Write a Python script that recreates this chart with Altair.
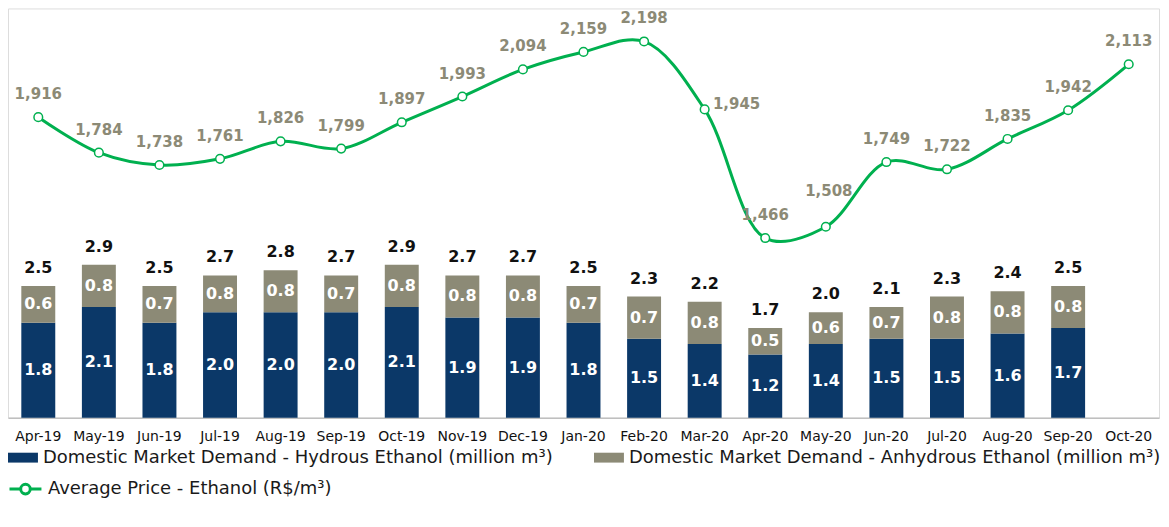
import altair as alt
import pandas as pd

months = ["Apr-19", "May-19", "Jun-19", "Jul-19", "Aug-19", "Sep-19", "Oct-19", "Nov-19",
          "Dec-19", "Jan-20", "Feb-20", "Mar-20", "Apr-20", "May-20", "Jun-20", "Jul-20",
          "Aug-20", "Sep-20", "Oct-20"]
hydrous = [1.8, 2.1, 1.8, 2.0, 2.0, 2.0, 2.1, 1.9, 1.9, 1.8, 1.5, 1.4, 1.2, 1.4, 1.5, 1.5, 1.6, 1.7]
anhydrous = [0.6, 0.8, 0.7, 0.8, 0.8, 0.7, 0.8, 0.8, 0.8, 0.7, 0.7, 0.8, 0.5, 0.6, 0.7, 0.8, 0.8, 0.8]
totals = [2.5, 2.9, 2.5, 2.7, 2.8, 2.7, 2.9, 2.7, 2.7, 2.5, 2.3, 2.2, 1.7, 2.0, 2.1, 2.3, 2.4, 2.5]
price = [1916, 1784, 1738, 1761, 1826, 1799, 1897, 1993, 2094, 2159, 2198, 1945, 1466, 1508,
         1749, 1722, 1835, 1942, 2113]

HYD = "Domestic Market Demand - Hydrous Ethanol (million m³)"
ANH = "Domestic Market Demand - Anhydrous Ethanol (million m³)"
PRC = "Average Price - Ethanol (R$/m³)"

NAVY = "#0B3868"
GREY = "#8C8A76"
GREEN = "#00B04F"
FONT = "DejaVu Sans"

bars = pd.DataFrame({"month": months[:18], "hydrous": hydrous, "anhydrous": anhydrous, "total": totals})
prices = pd.DataFrame({"month": months, "price": price})

W, H = 1153, 410
BAR_DOM = [0, 7.765]
LINE_DOM = [797, 2321]

x = alt.X("month:N", sort=months, scale=alt.Scale(domain=months, paddingInner=0.44, paddingOuter=0.22),
          axis=alt.Axis(title=None, labelAngle=0, ticks=False, domainColor="#BFBFBF", domainWidth=1.5,
                        labelFont=FONT, labelFontSize=14, labelColor="#111111", labelPadding=12))

def ybar(field):
    return alt.Y(field, scale=alt.Scale(domain=BAR_DOM, nice=False, zero=True), axis=None)

def yline(field):
    return alt.Y(field, scale=alt.Scale(domain=LINE_DOM, nice=False, zero=False), axis=None)

fill_scale = alt.Scale(domain=[HYD, ANH], range=[NAVY, GREY])
fill_legend = alt.Legend(title=None, orient="none", legendX=0, legendY=435, columns=2, columnPadding=40,
                         symbolType="M-1,-0.33H1V0.33H-1Z", symbolSize=900, symbolStrokeWidth=0,
                         labelFont=FONT, labelFontSize=18, labelColor="#1a1a1a", labelLimit=1000,
                         labelOffset=5, symbolOpacity=1)

base_bar = alt.Chart(bars)

hyd_bar = base_bar.transform_calculate(series=f"'{HYD}'").mark_bar(size=34).encode(
    x=x, y=ybar("hydrous:Q"),
    fill=alt.Fill("series:N", scale=fill_scale, legend=fill_legend),
)
anh_bar = base_bar.transform_calculate(series=f"'{ANH}'").mark_bar(size=34).encode(
    x=x, y=ybar("hydrous:Q"), y2="total:Q",
    fill=alt.Fill("series:N", scale=fill_scale, legend=fill_legend),
)
hyd_text = base_bar.transform_calculate(mid="datum.hydrous / 2").mark_text(
    font=FONT, fontSize=16, fontWeight="bold", color="white", baseline="middle"
).encode(x=x, y=ybar("mid:Q"), text=alt.Text("hydrous:Q", format=".1f"))
anh_text = base_bar.transform_calculate(mid="(datum.hydrous + datum.total) / 2").mark_text(
    font=FONT, fontSize=16, fontWeight="bold", color="white", baseline="middle"
).encode(x=x, y=ybar("mid:Q"), text=alt.Text("anhydrous:Q", format=".1f"))
tot_text = base_bar.mark_text(
    font=FONT, fontSize=16, fontWeight="bold", color="#111111", baseline="middle", dy=-18
).encode(x=x, y=ybar("total:Q"), text=alt.Text("total:Q", format=".1f"))

base_line = alt.Chart(prices)
stroke_legend = alt.Legend(title=None, orient="none", legendX=0, legendY=464,
                           symbolType="M-1,0H-0.3M0.3,0H1M0.3,0A0.3,0.3,0,1,1,-0.3,0A0.3,0.3,0,1,1,0.3,0",
                           symbolSize=1024, symbolStrokeWidth=3, symbolFillColor="white",
                           labelFont=FONT, labelFontSize=18, labelColor="#1a1a1a", labelLimit=1000,
                           labelOffset=5)
line = base_line.transform_calculate(series=f"'{PRC}'").mark_line(interpolate="catmull-rom", strokeWidth=3).encode(
    x=x, y=yline("price:Q"),
    stroke=alt.Stroke("series:N", scale=alt.Scale(domain=[PRC], range=[GREEN]), legend=stroke_legend),
)
pts = base_line.mark_point(filled=True, fill="white", stroke=GREEN, strokeWidth=1.5, size=75, opacity=1).encode(
    x=x, y=yline("price:Q"))

lab_style = dict(font=FONT, fontSize=15, fontWeight="bold", color=GREY, baseline="middle")
p_text = base_line.transform_filter("datum.month != 'Mar-20' && datum.month != 'May-20'").mark_text(
    dy=-23, **lab_style).encode(x=x, y=yline("price:Q"), text=alt.Text("price:Q", format=",.0f"))
p_text_mar = base_line.transform_filter("datum.month == 'Mar-20'").mark_text(
    dx=32, dy=-5, **lab_style).encode(x=x, y=yline("price:Q"), text=alt.Text("price:Q", format=",.0f"))
p_text_may = base_line.transform_filter("datum.month == 'May-20'").mark_text(
    dx=3, dy=-36, **lab_style).encode(x=x, y=yline("price:Q"), text=alt.Text("price:Q", format=",.0f"))

chart = alt.layer(
    hyd_bar, anh_bar, hyd_text, anh_text, tot_text, line, pts, p_text, p_text_mar, p_text_may
).resolve_scale(y="independent").properties(
    width=W, height=H, padding=0
).configure_view(stroke=None).configure(background="white")

chart.save("out.html", embed_options={"renderer": "svg", "actions": False})
